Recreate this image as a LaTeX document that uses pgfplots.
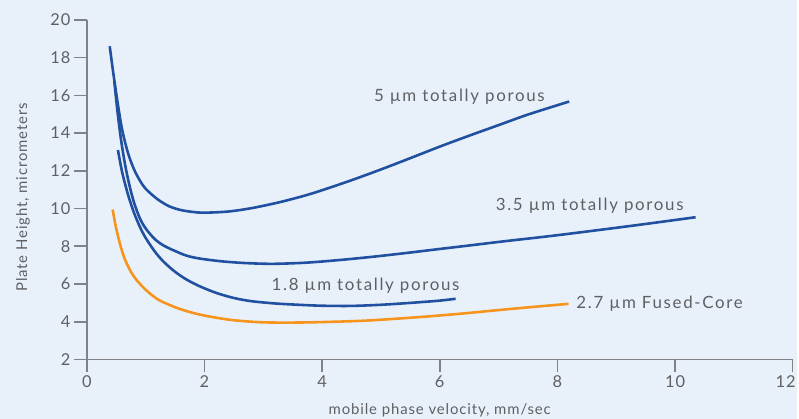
\documentclass[border=0pt]{standalone}
\usepackage{pgfplots}
\pgfplotsset{compat=1.18}
\usepackage{fontspec}
\setmainfont{Lato}
\newfontfamily\curvefont[LetterSpace=10]{Lato}
\newfontfamily\axfont[LetterSpace=6]{Lato}

\definecolor{bg}{HTML}{E8F1FA}
\definecolor{curveblue}{HTML}{2150A0}
\definecolor{curveorange}{HTML}{F7941D}
\definecolor{axisgray}{HTML}{808285}
\definecolor{textgray}{HTML}{5F6062}

\begin{document}
\begin{tikzpicture}
\begin{axis}[
  set layers,
  scale only axis,
  width=708bp, height=340.7bp,
  xmin=0, xmax=12, ymin=2, ymax=20,
  xtick={0,2,...,12}, ytick={2,4,...,20},
  xticklabels={0,2,4,6,8,10,\hspace*{-14bp}12},
  axis x line=bottom, axis y line=left,
  axis line style={-, axisgray, line width=1.6bp},
  tick style={axisgray, line width=1.6bp},
  major tick length=13bp,
  tick align=outside,
  ticklabel style={font=\axfont\fontsize{16.5}{18}\selectfont, text=textgray},
  /pgf/number format/assume math mode=true,
  clip=false,
]
\begin{pgfonlayer}{axis background}
\fill[bg] (axis cs:-1.475,-1.13) rectangle (axis cs:12.07,21.05);
\end{pgfonlayer}

% 5 um totally porous
\addplot[curveblue, line width=2.6bp, smooth] coordinates {
  (0.39,18.6)(0.45,17.2)(0.52,15.7)(0.6,14.2)(0.7,12.95)(0.8,12.1)
  (0.9,11.5)(1.0,11.05)(1.2,10.5)(1.4,10.12)(1.6,9.92)(1.8,9.82)
  (2.0,9.78)(2.4,9.84)(2.8,10.02)(3.27,10.33)(3.7,10.68)(4.0,10.97)
  (4.5,11.5)(5.0,12.07)(5.5,12.67)(6.0,13.28)(6.5,13.86)(7.0,14.42)
  (7.5,14.98)(8.2,15.67)
};
% 3.5 um totally porous
\addplot[curveblue, line width=2.6bp, smooth] coordinates {
  (0.47,16.7)(0.52,15.2)(0.58,13.7)(0.65,12.35)(0.72,11.3)(0.8,10.35)
  (0.9,9.5)(1.0,8.95)(1.15,8.4)(1.3,8.05)(1.5,7.75)(1.7,7.5)(1.92,7.35)
  (2.3,7.2)(2.7,7.11)(3.16,7.07)(3.72,7.13)(4.29,7.27)(4.85,7.44)
  (5.42,7.64)(5.98,7.85)(6.55,8.06)(7.11,8.27)(7.68,8.47)(8.19,8.66)
  (9.3,9.1)(10.35,9.54)
};
% 1.8 um totally porous
\addplot[curveblue, line width=2.6bp, smooth] coordinates {
  (0.53,13.1)(0.6,11.95)(0.7,10.75)(0.8,9.8)(0.9,9.05)(1.0,8.45)
  (1.15,7.75)(1.3,7.2)(1.5,6.65)(1.7,6.23)(1.92,5.88)(2.2,5.53)
  (2.5,5.26)(2.8,5.09)(3.2,4.97)(3.6,4.9)(4.0,4.85)(4.5,4.84)
  (5.0,4.9)(5.5,5.0)(6.0,5.12)(6.27,5.22)
};
% 2.7 um Fused-Core
\addplot[curveorange, line width=2.6bp, smooth] coordinates {
  (0.44,9.95)(0.5,8.95)(0.58,7.95)(0.65,7.3)(0.75,6.65)(0.85,6.2)
  (1.0,5.7)(1.2,5.2)(1.4,4.9)(1.6,4.66)(1.83,4.45)(2.1,4.27)
  (2.5,4.08)(3.0,3.97)(3.6,3.96)(4.2,4.0)(4.74,4.06)(5.3,4.17)
  (5.87,4.3)(6.4,4.44)(7.0,4.62)(7.6,4.79)(8.19,4.95)
};

\begin{scope}[every node/.style={text=textgray, font=\curvefont\fontsize{17}{20}\selectfont, anchor=west, inner sep=0pt}]
\node at (axis cs:4.88,15.9) {5 µm totally porous};
\node at (axis cs:6.95,10.15) {3.5 µm totally porous};
\node at (axis cs:3.14,5.92) {1.8 µm totally porous};
\node at (axis cs:8.32,4.97) {2.7 µm Fused-Core};
\end{scope}

\node[text=textgray, font=\axfont\fontsize{15}{17}\selectfont, inner sep=0pt] at (axis cs:6.0,-0.71) {mobile phase velocity, mm/sec};
\node[text=textgray, font=\axfont\fontsize{15}{17}\selectfont, rotate=90, anchor=west, inner sep=0pt] at (axis cs:-1.085,5.58) {Plate Height, micrometers};
\end{axis}
\end{tikzpicture}
\end{document}
